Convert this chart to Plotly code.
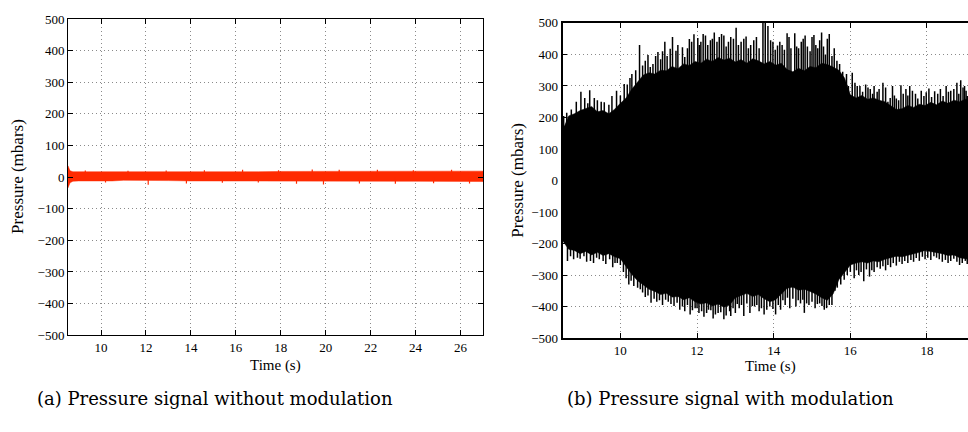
import plotly.graph_objects as go

# ---- (a) without modulation: envelope of the red signal (mbar)
nomod_t = [8.53, 8.56, 8.62, 8.75, 9.0, 9.5, 10.0, 10.5, 11.0, 12.0, 13.0, 14.0, 15.0,
           16.0, 17.0, 18.0, 19.0, 20.0, 21.0, 22.0, 23.0, 24.0, 25.0, 26.0, 27.0]
nomod_hi = [36, 32, 20, 17, 17, 16, 17, 17, 15, 15, 16, 17, 17,
            17, 17, 18, 18, 19, 18, 18, 18, 18, 18, 18, 19]
nomod_lo = [-34, -30, -18, -13, -12, -12, -13, -12, -10, -10, -11, -12, -12,
            -12, -12, -13, -13, -14, -13, -13, -13, -13, -13, -13, -14]
nomod_spike_t = [9.3, 10.2, 11.2, 12.1, 12.9, 13.8, 14.6, 15.4, 16.3, 17.0, 17.9,
                 18.7, 19.4, 19.9, 20.6, 21.5, 22.3, 23.1, 23.9, 24.8, 25.6, 26.4]
nomod_spike_v = [21, -17, 20, -24, 21, -20, 22, -18, 23, -17, 22,
                 -21, 24, -23, 23, -20, 23, -21, 22, -19, 23, -20]

# ---- (b) with modulation: solid envelope of the black signal (mbar)
mod_t = [8.49, 8.55, 8.65, 8.8, 8.95, 9.1, 9.25, 9.4, 9.55, 9.7, 9.85, 10.0, 10.15,
         10.3, 10.45, 10.6, 10.75, 10.9, 11.05, 11.2, 11.35, 11.5, 11.65, 11.8, 11.95,
         12.1, 12.25, 12.4, 12.55, 12.7, 12.85, 13.0, 13.15, 13.3, 13.45, 13.6, 13.75,
         13.9, 14.05, 14.2, 14.35, 14.5, 14.65, 14.8, 14.95, 15.1, 15.25, 15.4, 15.55,
         15.7, 15.85, 16.0, 16.15, 16.3, 16.45, 16.6, 16.75, 16.9, 17.05, 17.2, 17.35,
         17.5, 17.65, 17.8, 17.95, 18.1, 18.25, 18.4, 18.55, 18.7, 18.85, 19.0, 19.1]
mod_hi = [165, 175, 205, 212, 222, 228, 235, 218, 222, 212, 226, 245, 262,
          290, 312, 335, 342, 338, 350, 348, 362, 355, 370, 365, 378,
          372, 385, 378, 390, 382, 388, 376, 384, 372, 386, 380, 370,
          378, 366, 372, 352, 345, 356, 348, 362, 358, 372, 368, 360,
          350, 325, 272, 262, 270, 258, 262, 255, 250, 238, 225, 228,
          238, 232, 242, 238, 248, 240, 252, 245, 255, 250, 258, 255]
mod_lo = [-190, -200, -218, -222, -232, -225, -236, -228, -238, -232, -242, -248, -272,
          -298, -318, -332, -345, -352, -362, -358, -370, -368, -378, -372, -385,
          -392, -388, -398, -392, -402, -395, -372, -365, -358, -368, -362, -375,
          -385, -378, -360, -342, -338, -348, -345, -352, -360, -372, -380, -360,
          -315, -292, -268, -262, -258, -262, -255, -258, -250, -245, -240, -242,
          -236, -232, -228, -222, -225, -228, -232, -238, -236, -245, -248, -250]

# needle peaks sticking out of the envelope (upper side)
mod_up_t = [8.52, 8.60, 8.72, 8.85, 8.97, 9.07, 9.15, 9.20, 9.32, 9.40, 9.50, 9.58, 9.70,
            9.78, 9.90, 10.00, 10.10, 10.18, 10.25, 10.30, 10.40, 10.50, 10.58, 10.65,
            10.72, 10.78, 10.85, 10.92, 10.98, 11.05, 11.10, 11.16, 11.22, 11.30, 11.36,
            11.45, 11.50, 11.62, 11.68, 11.75, 11.80, 11.86, 11.92, 12.02, 12.06, 12.10,
            12.16, 12.22, 12.28, 12.35, 12.40, 12.45, 12.52, 12.58, 12.64, 12.70, 12.76,
            12.82, 12.88, 12.95, 13.02, 13.08, 13.15, 13.22, 13.28, 13.34, 13.40, 13.48,
            13.55, 13.62, 13.72, 13.78, 13.85, 13.92, 13.98, 14.04, 14.10, 14.16, 14.22,
            14.28, 14.35, 14.40, 14.45, 14.55, 14.60, 14.65, 14.72, 14.77, 14.82, 14.88,
            14.95, 15.00, 15.05, 15.10, 15.15, 15.20, 15.25, 15.30, 15.35, 15.40, 15.45,
            15.52, 15.58, 15.65, 15.72, 15.80, 15.90, 15.95, 16.05, 16.12, 16.18, 16.25,
            16.32, 16.40, 16.46, 16.52, 16.58, 16.62, 16.70, 16.75, 16.85, 16.92, 16.98,
            17.04, 17.10, 17.15, 17.20, 17.26, 17.32, 17.38, 17.45, 17.50, 17.55, 17.62,
            17.70, 17.76, 17.85, 17.92, 17.98, 18.05, 18.12, 18.20, 18.28, 18.35, 18.42,
            18.50, 18.56, 18.62, 18.70, 18.78, 18.83, 18.88, 18.94, 18.98, 19.02, 19.05]
mod_up_v = [205, 215, 225, 250, 282, 262, 245, 286, 262, 255, 250, 248, 240,
            268, 285, 270, 306, 305, 325, 338, 350, 430, 365, 380,
            398, 360, 370, 395, 408, 385, 410, 440, 395, 418, 455,
            412, 430, 423, 392, 420, 449, 440, 464, 452, 430, 440,
            465, 460, 430, 445, 450, 470, 440, 455, 465, 460, 425,
            440, 455, 450, 485, 430, 440, 450, 457, 420, 430, 445,
            455, 420, 500, 500, 490, 445, 440, 415, 428, 440, 430,
            415, 467, 455, 420, 467, 425, 420, 440, 450, 460, 425,
            410, 455, 462, 430, 420, 445, 470, 425, 400, 450, 465,
            395, 420, 380, 370, 345, 338, 300, 342, 310, 300, 300,
            282, 305, 295, 290, 275, 300, 282, 290, 310, 295, 250,
            262, 300, 270, 260, 255, 302, 275, 290, 270, 300, 285,
            275, 260, 285, 268, 280, 292, 265, 283, 275, 290, 268,
            300, 282, 285, 290, 310, 275, 318, 295, 300, 285, 268]

# needle peaks sticking out of the envelope (lower side)
mod_dn_t = [8.62, 8.70, 8.78, 8.88, 8.95, 9.05, 9.12, 9.22, 9.30, 9.38, 9.45, 9.55, 9.62,
            9.72, 9.80, 9.86, 9.92, 10.00, 10.08, 10.15, 10.22, 10.28, 10.35, 10.45, 10.52,
            10.58, 10.65, 10.72, 10.80, 10.88, 10.95, 11.02, 11.10, 11.18, 11.25, 11.32,
            11.40, 11.48, 11.55, 11.62, 11.68, 11.75, 11.82, 11.88, 11.95, 12.00, 12.05,
            12.12, 12.18, 12.25, 12.30, 12.36, 12.42, 12.48, 12.55, 12.62, 12.70, 12.76,
            12.85, 12.88, 12.94, 13.00, 13.05, 13.10, 13.16, 13.22, 13.30, 13.38, 13.44,
            13.50, 13.56, 13.62, 13.68, 13.75, 13.82, 13.90, 13.98, 14.05, 14.12, 14.18,
            14.24, 14.30, 14.36, 14.42, 14.50, 14.58, 14.64, 14.70, 14.76, 14.80, 14.86,
            14.92, 15.00, 15.08, 15.14, 15.20, 15.26, 15.32, 15.38, 15.45, 15.52, 15.60,
            15.66, 15.75, 15.84, 15.92, 16.00, 16.10, 16.16, 16.22, 16.28, 16.35, 16.42,
            16.50, 16.56, 16.62, 16.70, 16.78, 16.85, 16.92, 16.98, 17.05, 17.12, 17.20,
            17.28, 17.35, 17.42, 17.50, 17.58, 17.65, 17.72, 17.80, 17.88, 17.95, 18.02,
            18.10, 18.18, 18.25, 18.32, 18.40, 18.48, 18.55, 18.62, 18.70, 18.78, 18.85,
            18.92, 19.00, 19.05]
mod_dn_v = [-255, -240, -250, -245, -248, -240, -258, -255, -262, -245, -250, -255, -265,
            -250, -275, -262, -262, -268, -290, -310, -330, -318, -335, -340, -345,
            -355, -370, -365, -388, -375, -385, -380, -395, -378, -385, -392,
            -398, -388, -410, -400, -415, -395, -425, -412, -405, -405, -420,
            -415, -432, -420, -410, -412, -438, -425, -420, -418, -440, -428,
            -415, -430, -405, -420, -392, -405, -395, -430, -390, -420, -398,
            -400, -395, -415, -405, -425, -410, -400, -408, -425, -395, -410,
            -380, -395, -372, -405, -375, -400, -380, -390, -378, -420, -390,
            -395, -385, -405, -392, -390, -398, -410, -405, -395, -395, -350,
            -340, -330, -315, -300, -290, -310, -285, -300, -290, -320, -282,
            -305, -285, -290, -275, -280, -272, -285, -268, -275, -262, -270,
            -258, -265, -255, -262, -252, -258, -246, -255, -242, -250, -245,
            -252, -240, -245, -250, -258, -252, -262, -255, -248, -258, -268,
            -262, -255, -265]

y_ticks = [-500, -400, -300, -200, -100, 0, 100, 200, 300, 400, 500]
x_ticks_a = [10, 12, 14, 16, 18, 20, 22, 24, 26]
x_ticks_b = [10, 12, 14, 16, 18]

RED = 'rgb(255,42,0)'
W, H = 968, 432
SERIF = 'Liberation Serif'
TICK_FONT = dict(family=SERIF, size=13, color='black')


def band(t, hi, lo, color, xa, ya):
    return go.Scatter(x=list(t) + list(t)[::-1], y=list(hi) + list(lo)[::-1],
                      fill='toself', fillcolor=color, mode='lines',
                      line=dict(color=color, width=0.5),
                      xaxis=xa, yaxis=ya, hoverinfo='skip', showlegend=False)


def needles(t, v, color, width, xa, ya):
    xs, ys = [], []
    for ti, vi in zip(t, v):
        xs += [ti, ti, None]
        ys += [0, vi, None]
    return go.Scatter(x=xs, y=ys, mode='lines', line=dict(color=color, width=width),
                      xaxis=xa, yaxis=ya, hoverinfo='skip', showlegend=False)


fig = go.Figure()
fig.add_trace(band(nomod_t, nomod_hi, nomod_lo, RED, 'x', 'y'))
fig.add_trace(needles(nomod_spike_t, nomod_spike_v, RED, 1.2, 'x', 'y'))
fig.add_trace(band(mod_t, mod_hi, mod_lo, 'black', 'x2', 'y2'))
fig.add_trace(needles(mod_up_t, mod_up_v, 'black', 1.5, 'x2', 'y2'))
fig.add_trace(needles(mod_dn_t, mod_dn_v, 'black', 1.5, 'x2', 'y2'))

grid = dict(showgrid=True, gridcolor='#8a8a8a', gridwidth=1, griddash='1px,3px',
            zeroline=False, ticks='inside', ticklen=5, tickcolor='black',
            tickfont=TICK_FONT, showline=True, linecolor='black')

fig.update_layout(
    width=W, height=H,
    margin=dict(l=0, r=0, t=0, b=0),
    paper_bgcolor='white', plot_bgcolor='white',
    font=dict(family=SERIF, color='black'),
    showlegend=False,
    xaxis=dict(grid, domain=[68 / W, 483 / W], range=[8.53, 27.0], anchor='y',
               tickvals=x_ticks_a, linewidth=1, mirror='allticks'),
    yaxis=dict(grid, domain=[1 - 340 / H, 1 - 12.5 / H], range=[-500, 500], anchor='x',
               tickvals=y_ticks, linewidth=1, mirror='allticks'),
    xaxis2=dict(grid, domain=[562.5 / W, 1.0], range=[8.49, 19.07], anchor='y2',
                tickvals=x_ticks_b, linewidth=1.6, mirror='allticks'),
    yaxis2=dict(grid, domain=[1 - 343 / H, 1 - 16.5 / H], range=[-500, 500], anchor='x2',
                tickvals=y_ticks, linewidth=1.6, mirror=False),
)

label_font = dict(family=SERIF, size=15, color='black')
cap_font = dict(family='DejaVu Serif', size=18, color='black')
notes = [
    dict(text='Time (s)', x=275 / W, y=1 - 371 / H, font=label_font),
    dict(text='Time (s)', x=770 / W, y=1 - 372 / H, font=label_font),
    dict(text='Pressure (mbars)', x=18 / W, y=1 - 176 / H, font=dict(label_font, size=17), textangle=-90),
    dict(text='Pressure (mbars)', x=518 / W, y=1 - 180 / H, font=dict(label_font, size=17), textangle=-90),
    dict(text='(a) Pressure signal without modulation', x=215 / W, y=1 - 406 / H, font=cap_font),
    dict(text='(b) Pressure signal with modulation', x=730 / W, y=1 - 406 / H, font=cap_font),
]
for n in notes:
    fig.add_annotation(xref='paper', yref='paper', xanchor='center', yanchor='middle',
                       showarrow=False, **n)

# the page body has a default margin; drop it so the figure sits at the window corner
fig.write_html("out.html", config={'displayModeBar': False},
               post_script="document.body.style.margin='0';")
